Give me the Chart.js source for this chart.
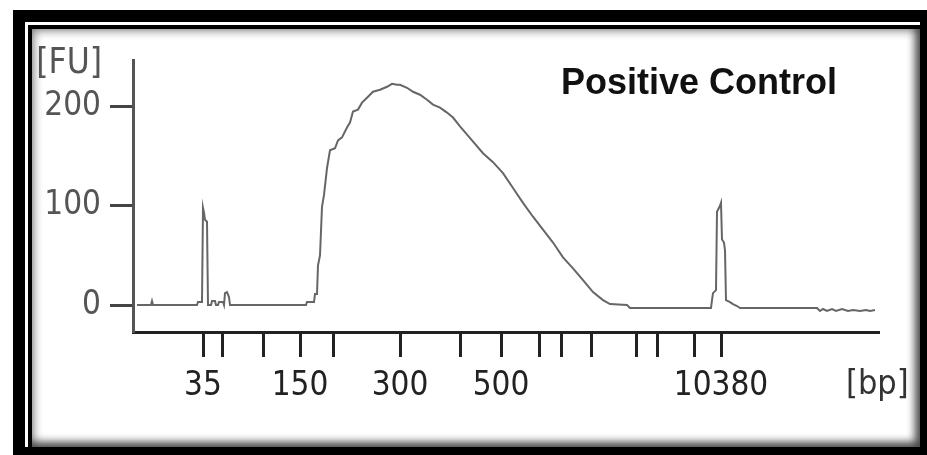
<!DOCTYPE html>
<html>
<head>
<meta charset="utf-8">
<script src="https://cdn.jsdelivr.net/npm/chart.js@4.4.1/dist/chart.umd.min.js"></script>
<style>
  html, body { margin: 0; padding: 0; width: 927px; height: 455px; overflow: hidden; background: #fff; }
  #outer { position: absolute; left: 13px; top: 10px; width: 930px; height: 460px; background: #000; }
  #gap { position: absolute; left: 25px; top: 22px; width: 895px; height: 425px; background: #fff; }
  #line { position: absolute; left: 28px; top: 25px; width: 892px; height: 422px; background: #000; }
  #inner { position: absolute; left: 32px; top: 29px; width: 888px; height: 418px; background: #fff;
           box-shadow: inset 0 0 10px 2px rgba(0,0,0,0.45), inset -5px -5px 8px rgba(0,0,0,0.55); }
  #wrap { position: absolute; left: 0; top: 0; width: 927px; height: 455px; }
</style>
</head>
<body>
<div id="outer"></div>
<div id="gap"></div>
<div id="line"></div>
<div id="inner"></div>
<div id="wrap"><canvas id="c" width="927" height="455"></canvas></div>
<script>
// Migration time (s) of each trace point and fluorescence (FU)
const traceTime = [35.4, 36.8, 36.9, 37.0, 41.4, 41.5, 41.9, 42.0, 42.1, 42.2, 42.4, 42.5, 42.8, 42.9, 43.2, 43.3, 43.5, 43.6, 44.0, 44.1, 44.2, 44.4, 44.6, 44.7,
  52.3, 52.4, 53.1, 53.2, 53.4, 53.5, 53.7, 53.9, 54.1, 54.4, 54.7, 55.2, 55.5, 55.9, 56.4, 56.7, 57.0, 57.5, 57.9, 58.4, 59.0, 59.7, 60.4, 60.9, 61.4, 61.7,
  62.4, 63.0, 63.7, 64.4, 65.0, 65.7, 66.4, 67.0, 67.7, 68.9, 70.0, 71.0, 72.0, 73.0, 74.0, 75.0, 76.0, 77.0, 78.0, 79.0, 80.0, 81.0, 82.0, 82.7, 84.4, 84.7,
  92.8, 92.9, 93.0, 93.3, 93.4, 93.7, 93.8, 93.9, 94.1, 94.2, 94.3, 94.7, 95.0, 95.4, 95.7,
  103.4, 103.7, 104.0, 104.4, 104.9, 105.3, 105.9, 106.5, 107.0, 107.7, 108.3, 108.7, 109.2];
const traceFU = [0, 0, 4, 0, 0, 3, 3, 98, 93, 86, 84, 0, 0, 4, 4, 0, 0, 3, 3, 0, 12, 13, 8, 0,
  0, 3, 3, 11, 11, 40, 50, 99, 111, 138, 156, 158, 166, 169, 179, 184, 195, 197, 204, 209, 215, 217, 220, 223, 222, 222,
  219, 215, 212, 207, 202, 199, 194, 189, 180, 166, 153, 144, 133, 118, 103, 89, 76, 63, 48, 37, 25, 13, 5, 1, 0, -3,
  -3, 5, 12, 15, 94, 100, 103, 66, 63, 55, 5, 3, 1, -1, -3,
  -3, -6, -4, -6, -4, -6, -4, -6, -5, -6, -5, -6, -5];

// Ladder peaks (bp) and their migration times (s)
const ladderBp   = [35, 50, 100, 150, 200, 300, 400, 500, 600, 700, 1000, 2000, 3000, 7000, 10380];
const ladderTime = [42.0, 43.9, 48.0, 51.7, 55.0, 61.7, 67.7, 71.8, 75.6, 77.8, 80.8, 85.3, 87.4, 91.1, 93.8];
const labelledBp = [35, 150, 300, 500, 10380];
const yTicks = [0, 100, 200];

const titleText = 'Positive Control';
const yUnit = '[FU]';
const xUnit = '[bp]';

const points = traceTime.map((t, i) => ({ x: t, y: traceFU[i] }));

const tickFont = { family: '"DejaVu Sans Condensed", "DejaVu Sans", sans-serif', size: 33 };

const textPlugin = {
  id: 'texts',
  afterDraw(chart) {
    const ctx = chart.ctx;
    ctx.save();
    ctx.font = 'bold 36px "Liberation Sans", Arial, sans-serif';
    ctx.fillStyle = '#111';
    ctx.textAlign = 'left';
    ctx.textBaseline = 'alphabetic';
    ctx.fillText(titleText, 561, 94);
    ctx.font = '35px "DejaVu Sans Condensed", "DejaVu Sans", sans-serif';
    ctx.fillStyle = '#555';
    ctx.textAlign = 'right';
    ctx.textBaseline = 'middle';
    ctx.fillText(yUnit, 102, 64);
    ctx.font = '34px "DejaVu Sans Condensed", "DejaVu Sans", sans-serif';
    ctx.fillStyle = '#333';
    ctx.textAlign = 'left';
    ctx.fillText(xUnit, 846, 385);
    ctx.restore();
  }
};

new Chart(document.getElementById('c'), {
  type: 'line',
  data: {
    datasets: [{
      data: points,
      borderColor: '#666',
      borderWidth: 2,
      pointRadius: 0,
      tension: 0,
      fill: false
    }]
  },
  options: {
    responsive: false,
    animation: false,
    events: [],
    layout: { padding: { left: 0, top: 60, right: 48, bottom: 0 } },
    plugins: { legend: { display: false }, tooltip: { enabled: false }, title: { display: false } },
    scales: {
      x: {
        type: 'linear',
        min: 35,
        max: 109.6,
        afterFit(s) { s.height = 123; },
        afterBuildTicks(s) { s.ticks = ladderTime.map(v => ({ value: v })); },
        border: { display: true, color: '#222', width: 3 },
        grid: { display: true, drawOnChartArea: false, drawTicks: true, tickLength: 25, tickWidth: 3, tickColor: '#222' },
        ticks: {
          autoSkip: false,
          maxRotation: 0,
          padding: 10,
          color: '#222',
          font: tickFont,
          callback(v, i) {
            const bp = ladderBp[i];
            return labelledBp.includes(bp) ? String(bp) : '';
          }
        }
      },
      y: {
        type: 'linear',
        min: -27.2,
        max: 247,
        afterFit(s) { s.width = 133; },
        afterBuildTicks(s) { s.ticks = yTicks.map(v => ({ value: v })); },
        border: { display: true, color: '#555', width: 3 },
        grid: { display: true, drawOnChartArea: false, drawTicks: true, tickLength: 23, tickWidth: 3, tickColor: '#444' },
        ticks: { padding: 9, color: '#555', font: tickFont }
      }
    }
  },
  plugins: [textPlugin]
});
</script>
</body>
</html>
